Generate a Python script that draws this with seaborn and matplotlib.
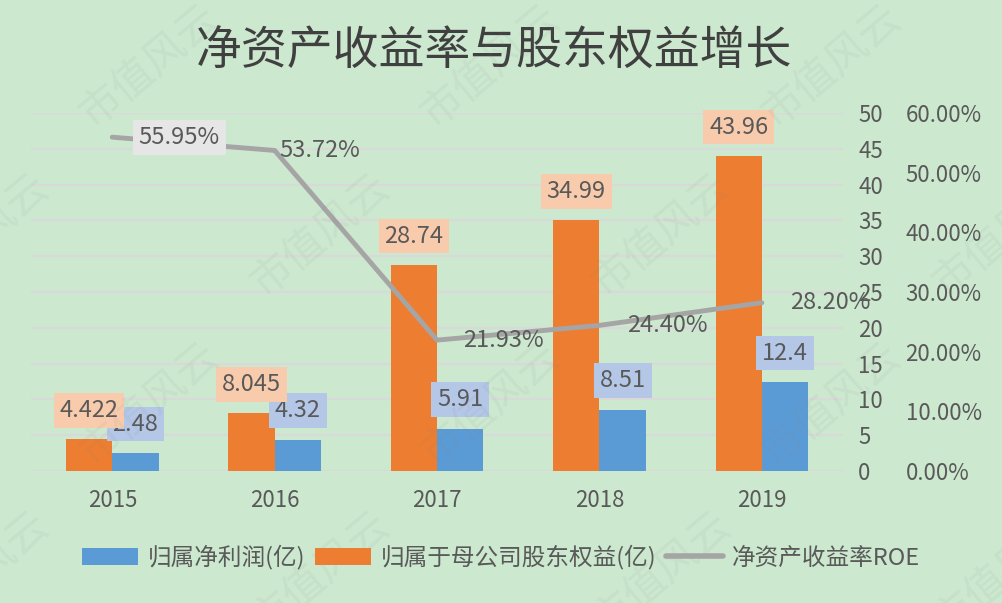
import numpy as np
import pandas as pd
import seaborn as sns
import matplotlib.pyplot as plt
from matplotlib.patches import Patch
from matplotlib.lines import Line2D
from matplotlib.ticker import FuncFormatter

# data
years = ['2015', '2016', '2017', '2018', '2019']
net_profit = [2.48, 4.32, 5.91, 8.51, 12.4]
equity = [4.422, 8.045, 28.74, 34.99, 43.96]
roe = [55.95, 53.72, 21.93, 24.40, 28.20]

profit_name = '归属净利润(亿)'
equity_name = '归属于母公司股东权益(亿)'
roe_name = '净资产收益率ROE'
title = '净资产收益率与股东权益增长'

bg = '#cce8cf'
blue, orange, grey = '#5b9bd5', '#ed7d31', '#a5a5a5'
txt = '#595959'

sns.set_style('white', {'axes.facecolor': bg, 'figure.facecolor': bg})
plt.rcParams['font.family'] = ['Noto Sans CJK SC', 'DejaVu Sans']

df = pd.DataFrame({
    'year': years * 2,
    'value': equity + net_profit,
    'series': [equity_name] * len(years) + [profit_name] * len(years),
})

fig = plt.figure(figsize=(10.03, 6.03), dpi=100)
ax = fig.add_axes([0.031, 0.219, 0.8095, 0.5936])

sns.barplot(data=df, x='year', y='value', hue='series',
            hue_order=[equity_name, profit_name],
            palette={equity_name: orange, profit_name: blue},
            width=0.57, saturation=1, legend=False, ax=ax, zorder=3,
            edgecolor='none', linewidth=0)

ax.set_xlim(-0.5, len(years) - 0.5)
ax.set_ylim(0, 50)
ax.set_yticks(range(0, 55, 5))
ax.grid(axis='y', color='#d9d9d9', lw=1.6, zorder=0)
ax.set_axisbelow(True)
ax.set_xlabel('')
ax.set_ylabel('')
ax.tick_params(axis='x', length=0, pad=13, labelsize=16, labelcolor=txt)
for s in ax.spines.values():
    s.set_visible(False)

# bar data labels (orange ones drawn last so they sit on top)
label_bg = ['#f8cbad', '#b4c7e7']
for k in [1, 0]:
    for bar in ax.containers[k]:
        h = bar.get_height()
        ax.annotate(f'{h:g}', (bar.get_x() + bar.get_width() / 2, h),
                    xytext=(0, 21), textcoords='offset points',
                    ha='center', va='center', fontsize=17, color=txt, zorder=6,
                    bbox=dict(boxstyle='square,pad=0.25', fc=label_bg[k], ec='none'))

# ROE line on the secondary axis
ax2 = ax.twinx()
sns.lineplot(x=np.arange(len(years)), y=roe, ax=ax2, color=grey, lw=3.5, zorder=4)
ax2.set_ylim(0, 60)
ax2.set_yticks(range(0, 70, 10))
ax2.yaxis.set_major_formatter(FuncFormatter(lambda v, p: f'{v:.2f}%'))
ax2.tick_params(axis='y', length=0, pad=45, labelsize=16, labelcolor=txt)
ax2.grid(False)
for s in ax2.spines.values():
    s.set_visible(False)

# twinx moves the primary ticks to the left, put them back on the right
ax.yaxis.tick_right()
ax.tick_params(axis='y', length=0, pad=11, labelsize=16, labelcolor=txt)

roe_dx = [19, 3, 19, 20, 20]
for i, v in enumerate(roe):
    box = dict(boxstyle='square,pad=0.25', fc='#e7e6e6', ec='none') if i == 0 else None
    ax2.annotate(f'{v:.2f}%', (i, v), xytext=(roe_dx[i], 0), textcoords='offset points',
                 ha='left', va='center', fontsize=17, color=txt, bbox=box, zorder=6)

# title
fig.text(0.493, 0.917, title, ha='center', va='center', fontsize=33, color='#404040')

# legend
handles = [Patch(fc=blue, ec='none'), Patch(fc=orange, ec='none'),
           Line2D([], [], color=grey, lw=4)]
fig.legend(handles, [profit_name, equity_name, roe_name], loc='center',
           bbox_to_anchor=(0.4995, 0.076), ncol=3, frameon=False, fontsize=17,
           handlelength=2.4, handletextpad=0.4, columnspacing=0.4, labelcolor=txt)

# faint watermark
for row, y in enumerate(np.arange(0.05, 1.0, 0.28)):
    for x in np.arange(-0.02 + 0.17 * (row % 2), 1.05, 0.34):
        fig.text(x, y, '市值风云', rotation=40, fontsize=30, color='#7f7f7f',
                 alpha=0.08, ha='center', va='center')

fig.savefig('out.png', dpi=100)
